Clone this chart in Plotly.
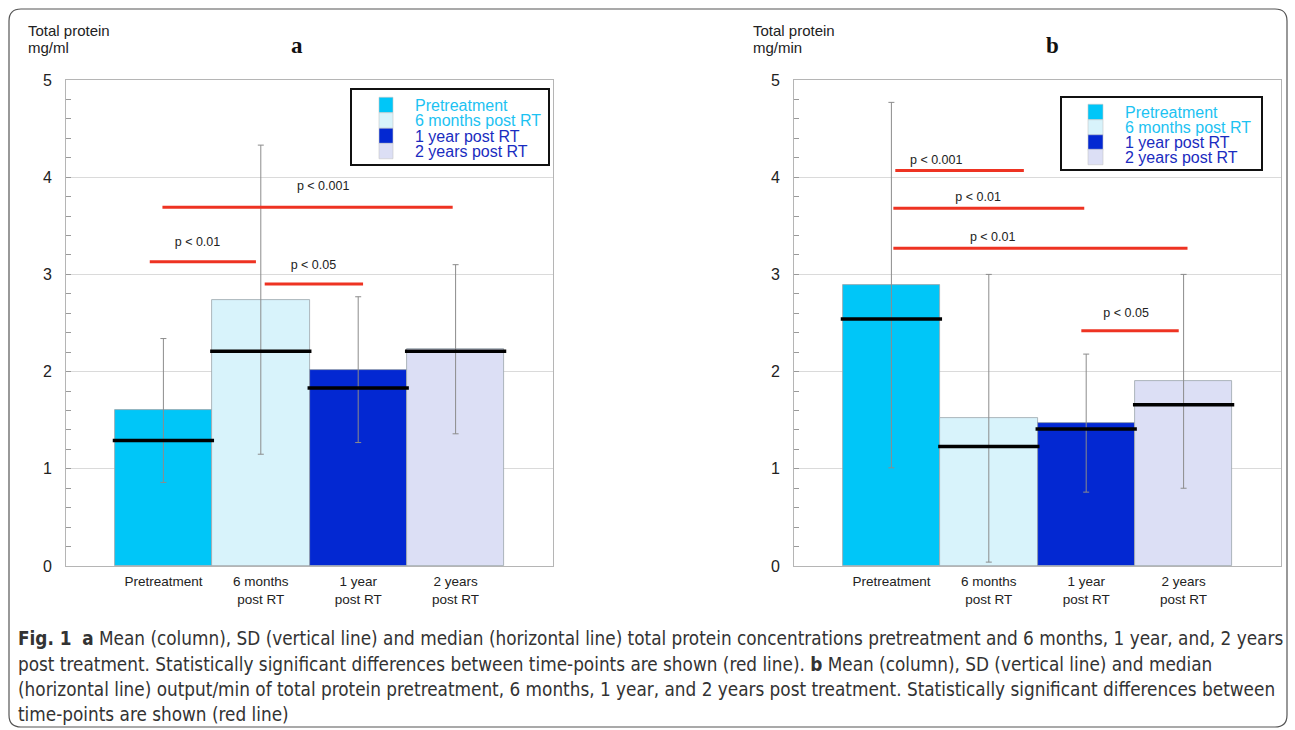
import plotly.graph_objects as go

W, H = 1295, 730

# ---------------- data ----------------
categories = ["Pretreatment", "6 months post RT", "1 year post RT", "2 years post RT"]
tick_labels = ["Pretreatment", "6 months<br>post RT", "1 year<br>post RT", "2 years<br>post RT"]
bar_colors = ["#00c6f8", "#d8f3fb", "#0328d2", "#dcdff5"]
legend_text_colors = ["#1cc2f2", "#1cc2f2", "#1a2cc0", "#1a2cc0"]
y_ticks = [0, 1, 2, 3, 4, 5]

# panel a: total protein concentration (mg/ml)
mean_a = [1.60, 2.74, 2.02, 2.23]
sd_a = [0.74, 1.59, 0.75, 0.87]
median_a = [1.29, 2.21, 1.83, 2.21]

# panel b: total protein output (mg/min)
mean_b = [2.89, 1.52, 1.47, 1.90]
sd_b = [1.88, 1.48, 0.71, 1.10]
median_b = [2.54, 1.23, 1.41, 1.66]

# significance bars (x in category units, y in data units)
sig_a_labels = ["p < 0.01", "p < 0.001", "p < 0.05"]
sig_a_x0 = [-0.14, -0.01, 1.04]
sig_a_x1 = [0.95, 2.97, 2.05]
sig_a_y = [3.13, 3.69, 2.90]
sig_a_label_x = [0.35, 1.64, 1.54]
sig_a_label_y = [3.32, 3.90, 3.09]

sig_b_labels = ["p < 0.001", "p < 0.01", "p < 0.01", "p < 0.05"]
sig_b_x0 = [0.04, 0.02, 0.02, 1.95]
sig_b_x1 = [1.36, 1.98, 3.04, 2.95]
sig_b_y = [4.07, 3.68, 3.27, 2.42]
sig_b_label_x = [0.46, 0.89, 1.04, 2.41]
sig_b_label_y = [4.17, 3.79, 3.38, 2.59]

caption_lines = [
    "<b>Fig. 1</b>  <b>a</b> Mean (column), SD (vertical line) and median (horizontal line) total protein concentrations pretreatment and 6 months, 1 year, and, 2 years",
    "post treatment. Statistically significant differences between time-points are shown (red line). <b>b</b> Mean (column), SD (vertical line) and median",
    "(horizontal line) output/min of total protein pretreatment, 6 months, 1 year, and 2 years post treatment. Statistically significant differences between",
    "time-points are shown (red line)",
]

# ---------------- helpers ----------------
def px(x):
    return x / W


def py(y):
    return 1 - y / H


FONT = "Liberation Sans, Arial, Helvetica, sans-serif"
x_idx = list(range(len(categories)))

fig = go.Figure()


def add_panel(xa, ya, means, sds, medians, x0s, x1s, ys, labels, lx, ly):
    xref = "x" if xa == "xaxis" else "x2"
    yref = "y" if ya == "yaxis" else "y2"
    fig.add_trace(go.Bar(
        x=x_idx, y=means, width=1.0,
        marker=dict(color=bar_colors, line=dict(color="#9aa4aa", width=0.8)),
        error_y=dict(type="data", array=sds, visible=True, color="#8c8c8c", thickness=1, width=3),
        xaxis=xref, yaxis=yref, showlegend=False, hoverinfo="y",
    ))
    mx, my = [], []
    for i, m in zip(x_idx, medians):
        mx += [i - 0.52, i + 0.52, None]
        my += [m, m, None]
    fig.add_trace(go.Scatter(x=mx, y=my, mode="lines", line=dict(color="black", width=3.5),
                             xaxis=xref, yaxis=yref, showlegend=False, hoverinfo="skip"))
    sx, sy = [], []
    for a, b, yv in zip(x0s, x1s, ys):
        sx += [a, b, None]
        sy += [yv, yv, None]
    fig.add_trace(go.Scatter(x=sx, y=sy, mode="lines", line=dict(color="#ee3322", width=3),
                             xaxis=xref, yaxis=yref, showlegend=False, hoverinfo="skip"))
    fig.add_trace(go.Scatter(x=lx, y=ly, mode="text", text=labels,
                             textfont=dict(family=FONT, size=12.5, color="#222222"),
                             xaxis=xref, yaxis=yref, showlegend=False, hoverinfo="skip"))


add_panel("xaxis", "yaxis", mean_a, sd_a, median_a, sig_a_x0, sig_a_x1, sig_a_y,
          sig_a_labels, sig_a_label_x, sig_a_label_y)
add_panel("xaxis2", "yaxis2", mean_b, sd_b, median_b, sig_b_x0, sig_b_x1, sig_b_y,
          sig_b_labels, sig_b_label_x, sig_b_label_y)

xaxis_common = dict(
    range=[-1, 4], tickmode="array", tickvals=x_idx, ticktext=tick_labels,
    showgrid=False, zeroline=False, showline=True, linecolor="#b5b5b5", linewidth=1,
    mirror=True, ticks="", tickfont=dict(family=FONT, size=13.5, color="#222222"),
    ticklabelstandoff=3, fixedrange=True,
)
yaxis_common = dict(
    range=[0, 5], tickmode="array", tickvals=y_ticks, showgrid=True, gridcolor="#dadada",
    gridwidth=1, zeroline=False, showline=True, linecolor="#b5b5b5", linewidth=1, mirror=True,
    ticks="inside", ticklen=5, tickcolor="#9a9a9a",
    minor=dict(dtick=0.2, ticks="inside", ticklen=5, tickcolor="#9a9a9a", showgrid=False),
    tickfont=dict(family=FONT, size=16, color="#222222"), ticklabelstandoff=10, fixedrange=True,
)

fig.update_layout(
    width=W, height=H, margin=dict(l=0, r=0, t=0, b=0, autoexpand=False),
    paper_bgcolor="white", plot_bgcolor="white", bargap=0,
    xaxis=dict(domain=[px(66), px(553)], anchor="y", **xaxis_common),
    yaxis=dict(domain=[py(566), py(80)], anchor="x", **yaxis_common),
    xaxis2=dict(domain=[px(794), px(1281)], anchor="y2", **xaxis_common),
    yaxis2=dict(domain=[py(566), py(80)], anchor="x2", **yaxis_common),
    showlegend=False,
)

shapes = []
annotations = []

# outer rounded frame
r = 12
x0f, x1f, y0f, y1f = 9, 1287, 9, 727
path = (f"M {px(x0f + r)},{py(y0f)} L {px(x1f - r)},{py(y0f)} "
        f"Q {px(x1f)},{py(y0f)} {px(x1f)},{py(y0f + r)} "
        f"L {px(x1f)},{py(y1f - r)} Q {px(x1f)},{py(y1f)} {px(x1f - r)},{py(y1f)} "
        f"L {px(x0f + r)},{py(y1f)} Q {px(x0f)},{py(y1f)} {px(x0f)},{py(y1f - r)} "
        f"L {px(x0f)},{py(y0f + r)} Q {px(x0f)},{py(y0f)} {px(x0f + r)},{py(y0f)} Z")
shapes.append(dict(type="path", xref="paper", yref="paper", path=path,
                   line=dict(color="#555555", width=1.2), layer="below"))

# legends (drawn manually for compact spacing)
def add_legend(bx0, by0, bx1, by1, sw_x0, sw_x1, rows, text_x):
    shapes.append(dict(type="rect", xref="paper", yref="paper",
                       x0=px(bx0), x1=px(bx1), y0=py(by1), y1=py(by0),
                       line=dict(color="#111111", width=2), fillcolor="white", layer="above"))
    step = rows[1] - rows[0]
    for i, (name, c, tc) in enumerate(zip(categories, bar_colors, legend_text_colors)):
        yc = rows[i]
        shapes.append(dict(type="rect", xref="paper", yref="paper",
                           x0=px(sw_x0), x1=px(sw_x1), y0=py(yc + step / 2), y1=py(yc - step / 2),
                           line=dict(color="#c8c8c8", width=0.6), fillcolor=c, layer="above"))
        annotations.append(dict(xref="paper", yref="paper", x=px(text_x), y=py(yc),
                                xanchor="left", yanchor="middle", showarrow=False, text=name,
                                font=dict(family=FONT, size=16, color=tc)))


add_legend(351, 89, 549, 165, 379, 393, [105, 120.5, 136, 151], 413)
add_legend(1061, 97, 1262, 170, 1088, 1103, [112, 127.5, 142.5, 157], 1123)

# axis titles and panel letters
for x, l1, l2, letter, lx in [(26, "Total protein", "mg/ml", "a", 297),
                              (751, "Total protein", "mg/min", "b", 1052)]:
    annotations.append(dict(xref="paper", yref="paper", x=px(x), y=py(31), xanchor="left",
                            yanchor="middle", showarrow=False, text=l1,
                            font=dict(family=FONT, size=15, color="#222222")))
    annotations.append(dict(xref="paper", yref="paper", x=px(x), y=py(47), xanchor="left",
                            yanchor="middle", showarrow=False, text=l2,
                            font=dict(family=FONT, size=15, color="#222222")))
    annotations.append(dict(xref="paper", yref="paper", x=px(lx), y=py(45), xanchor="center",
                            yanchor="middle", showarrow=False, text=f"<b>{letter}</b>",
                            font=dict(family="Liberation Serif, Times New Roman, serif", size=23,
                                      color="#111111")))

# caption
CAP_FONT = "Liberation Sans Narrow, DejaVu Sans Condensed, Arial Narrow, sans-serif"
for yc, line in zip([638, 664, 689, 714], caption_lines):
    annotations.append(dict(xref="paper", yref="paper", x=px(16), y=py(yc), xanchor="left",
                            yanchor="middle", showarrow=False, text=line,
                            font=dict(family=CAP_FONT, size=18.8, color="#333333")))

fig.update_layout(shapes=shapes, annotations=annotations)

fig.write_html("out.html", config={"displayModeBar": False},
               post_script="document.body.style.margin='0';")
